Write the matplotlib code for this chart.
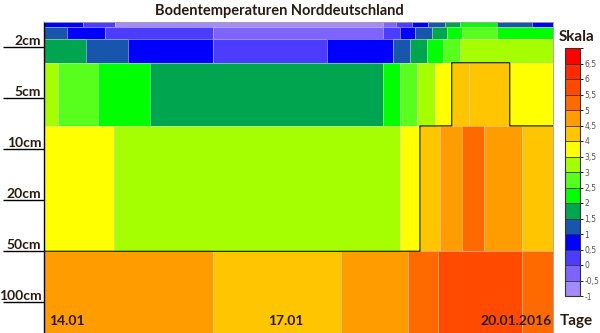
#!/usr/bin/env python3
"""
Bodentemperaturen Norddeutschland - Tiefenprofil ueber die Zeit
"""

import numpy as np
import matplotlib.pyplot as plt
from matplotlib.colors import ListedColormap, BoundaryNorm

# Skala: Klassengrenzen (Grad C) und Farben
levels = np.arange(-1, 7.01, 0.5)
scale_colors = ['#a48aff', '#7e63ff', '#4c3cff', '#0000ff', '#1855ad', '#00a550',
                '#00ff00', '#58ff1c', '#a6ff00', '#ffff00', '#ffc600', '#ff9c00',
                '#ff6a00', '#ff4a00', '#ff2a00', '#ff0000']

depth_labels = ['2cm', '5cm', '10cm', '20cm', '50cm', '100cm']
depth_pos = [0.5, 1.5, 2.5, 3.5, 4.5, 5.5]

# Schichtgrenzen (in Zeilen-Einheiten, 0 = Oberflaeche)
layer_bounds = [0, 0.1, 0.33, 0.8, 2.04, 4.5, 6.1]

# je Schicht: Zeitgrenzen (Stunden ab 14.01. 00 Uhr) und Temperaturen
edges_0 = [0, 11, 20, 96, 99.6, 104, 108.6, 113.4, 117.7, 128.2, 138, 144]
temps_0 = [0.75, 0.25, -0.75, -0.25, 0.25, 0.75, 1.25, 1.75, 2.25, 1.25, 0.75]

edges_1 = [0, 6.5, 17.3, 47.8, 96, 100.8, 105, 109.8, 114, 118.3, 128.2, 144]
temps_1 = [1.25, 0.75, 0.25, -0.25, 0.25, 0.75, 1.25, 1.75, 2.25, 2.75, 2.25]

edges_2 = [0, 11.9, 23.8, 47.8, 80, 98.7, 103.5, 108.4, 112.9, 117.7, 144]
temps_2 = [1.75, 1.25, 0.75, 0.25, 0.75, 1.25, 1.75, 2.25, 2.75, 3.25]

edges_5cm = [0, 4, 15.3, 30, 96, 100.7, 105.5, 110.6, 115.4, 120.2, 131.8, 144]
temps_5cm = [3.25, 2.75, 2.25, 1.75, 2.25, 2.75, 3.25, 3.75, 4.25, 4.25, 3.75]

edges_mid = [0, 19.8, 100.7, 106.4, 112, 118.3, 124.5, 135.2, 144]
temps_mid = [3.75, 3.25, 3.75, 4.25, 4.75, 5.25, 4.75, 4.25]

edges_100cm = [0, 47.8, 84, 103, 111.5, 135.2, 144]
temps_100cm = [4.75, 4.25, 4.75, 5.25, 5.75, 5.25]

layer_edges = [edges_0, edges_1, edges_2, edges_5cm, edges_mid, edges_100cm]
layer_temps = [temps_0, temps_1, temps_2, temps_5cm, temps_mid, temps_100cm]

date_labels = ['14.01', '17.01', '20.01.2016']
date_pos = [1.4, 63.4, 143.7]

TEXT = '#2a1a10'
FONT = 'Lato'


def temperature_grid(x, y):
    """Sample the layer blocks on a fine grid (used for the 4 degree line)."""
    z = np.zeros((len(y), len(x)))
    for i, (e, t) in enumerate(zip(layer_edges, layer_temps)):
        rows = (y >= layer_bounds[i]) & (y < layer_bounds[i + 1])
        idx = np.clip(np.searchsorted(e, x, side='right') - 1, 0, len(t) - 1)
        z[rows, :] = np.asarray(t)[idx]
    return z


cmap = ListedColormap(scale_colors)
norm = BoundaryNorm(levels, cmap.N)

fig = plt.figure(figsize=(6, 3.33), dpi=100)
ax = fig.add_axes([44 / 600, 0.0, 509 / 600, 1 - 22 / 333])

for i, (e, t) in enumerate(zip(layer_edges, layer_temps)):
    ax.pcolormesh(e, [layer_bounds[i], layer_bounds[i + 1]], [t], cmap=cmap, norm=norm,
                  edgecolors=(0.85, 0.85, 0.85, 0.55), linewidth=0.6)

# 4-Grad-Linie
gx = np.arange(0, 144.01, 0.1)
gy = np.arange(0, 6.1, 0.004)
ax.contour(gx, gy, temperature_grid(gx, gy), levels=[4.0], colors='#2e2600', linewidths=0.9)

ax.set_xlim(0, 144)
ax.set_ylim(6.1, 0)
ax.set_xticks([])

ax.set_yticks(depth_pos)
ax.set_yticklabels(depth_labels, fontsize=10, fontweight='bold', family=FONT, color=TEXT)
ax.tick_params(axis='y', length=29.5, width=1.0, color='black', pad=-27.5)
for lab in ax.get_yticklabels():
    lab.set_verticalalignment('bottom')

for side in ['top', 'right', 'bottom']:
    ax.spines[side].set_color('#999999')
    ax.spines[side].set_linewidth(0.6)
ax.spines['left'].set_color('black')
ax.spines['left'].set_linewidth(1.0)

aligns = ['left', 'left', 'right']
for lab, x, ha in zip(date_labels, date_pos, aligns):
    ax.text(x, 5.86, lab, ha=ha, va='center', fontsize=10, fontweight='bold',
            family=FONT, color=TEXT)

fig.text(279 / 600, 1 - 11 / 333, 'Bodentemperaturen Norddeutschland', ha='center',
         va='center', fontsize=10.5, fontweight='bold', family=FONT, color=TEXT)
fig.text(577 / 600, 1 - 37 / 333, 'Skala', ha='center', va='center', fontsize=11,
         fontweight='bold', family=FONT, color=TEXT)
fig.text(576 / 600, 1 - 321 / 333, 'Tage', ha='center', va='center', fontsize=11,
         fontweight='bold', family=FONT, color=TEXT)

# Farbskala
cax = fig.add_axes([565 / 600, 1 - 296 / 333, 15 / 600, 248 / 333])
cb = fig.colorbar(plt.cm.ScalarMappable(norm=norm, cmap=cmap), cax=cax,
                  ticks=levels[:-1], drawedges=True)
cb.outline.set_edgecolor('#333333')
cb.outline.set_linewidth(0.8)
cb.dividers.set_color('#333333')
cb.dividers.set_linewidth(0.6)
cax.set_yticklabels([f'{v:g}'.replace('.', ',') for v in levels[:-1]])
cax.tick_params(length=2, width=0.6, pad=1, labelsize=5.5, labelcolor='#555555')

plt.savefig('out.png', dpi=100)
